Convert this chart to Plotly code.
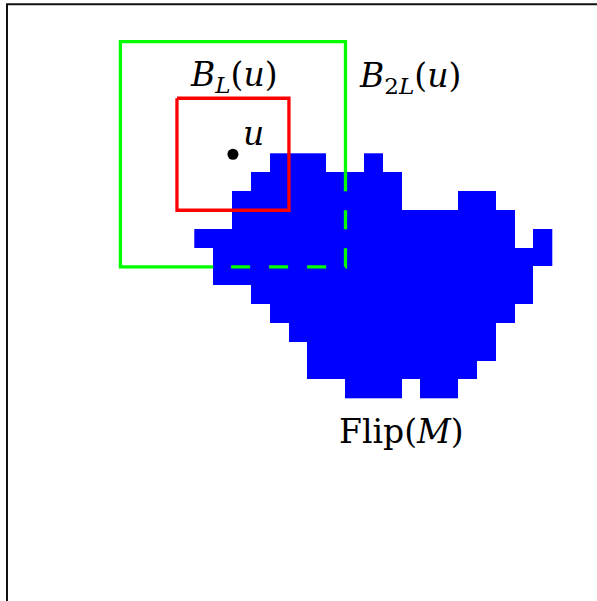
import plotly.graph_objects as go

# ---------------- data ----------------
# occupied cells of Flip(M): for each grid row (top to bottom) the inclusive column spans
blob_rows = [
    [(4, 6), (9, 9)],
    [(3, 10)],
    [(2, 10), (14, 15)],
    [(2, 16)],
    [(0, 16), (18, 18)],
    [(1, 18)],
    [(1, 17)],
    [(3, 17)],
    [(4, 16)],
    [(5, 15)],
    [(6, 15)],
    [(6, 14)],
    [(8, 10), (12, 13)],
]
n_cols = 19
point_u = (2.05, 0.05)        # grid coordinates of u
half_L = 2.97                 # half side of B_L(u) in cells
half_2L = 5.97                # half side of B_2L(u) in cells
overlap_row = 1.0             # where the right side of B_2L enters Flip(M)
overlap_col = 1.0             # where the bottom side of B_2L leaves Flip(M)

label_BL = "<i>B</i><sub><i>L</i></sub>(<i>u</i>)"
label_B2L = "<i>B</i><sub>2<i>L</i></sub>(<i>u</i>)"
label_u = "<i>u</i>"
label_flip = "Flip(<i>M</i>)"

# ---------------- geometry of the canvas ----------------
W, H = 597, 601
CELL = 18.85
OX, OY = 194.3, 153.3


def gx(px):
    return (px - OX) / CELL


def gy(py):
    return (py - OY) / CELL


z = [[None] * n_cols for _ in blob_rows]
for r, spans in enumerate(blob_rows):
    for a, b in spans:
        for c in range(a, b + 1):
            z[r][c] = 1

ux, uy = point_u
rL, rR, rT, rB = ux - half_L, ux + half_L, uy - half_L, uy + half_L
gL, gR, gT, gB = ux - half_2L, ux + half_2L, uy - half_2L, uy + half_2L

fig = go.Figure()
fig.add_trace(go.Heatmap(
    z=z, x0=0.5, dx=1, y0=0.5, dy=1,
    colorscale=[[0, "#0000ff"], [1, "#0000ff"]], showscale=False,
    zsmooth=False, hoverinfo="skip",
))
# B_2L(u): solid outside Flip(M)
fig.add_trace(go.Scatter(
    x=[gR, gR, gL, gL, overlap_col], y=[overlap_row, gT, gT, gB, gB],
    mode="lines", line=dict(color="#00ff00", width=3.3), hoverinfo="skip",
))
# B_2L(u): dashed over Flip(M)
fig.add_trace(go.Scatter(
    x=[gR, gR, overlap_col], y=[overlap_row, gB, gB],
    mode="lines", line=dict(color="#00ff00", width=3.3, dash="19px,19px"),
    hoverinfo="skip",
))
# B_L(u)
fig.add_trace(go.Scatter(
    x=[rL, rR, rR, rL, rL], y=[rT, rT, rB, rB, rT],
    mode="lines", line=dict(color="#ff0000", width=3.3), hoverinfo="skip",
))
# u
fig.add_trace(go.Scatter(
    x=[ux], y=[uy], mode="markers",
    marker=dict(color="black", size=11), hoverinfo="skip",
))

font = dict(family="DejaVu Serif", size=33, color="black")
fig.add_annotation(x=gx(234), y=gy(76), text=label_BL, showarrow=False,
                   xanchor="center", yanchor="middle", font=font)
fig.add_annotation(x=gx(357), y=gy(77), text=label_B2L, showarrow=False,
                   xanchor="left", yanchor="middle", font=font)
fig.add_annotation(x=gx(253), y=gy(133), text=label_u, showarrow=False,
                   xanchor="center", yanchor="middle", font=font)
fig.add_annotation(x=gx(401), y=gy(431), text=label_flip, showarrow=False,
                   xanchor="center", yanchor="middle", font=font)

# outer frame (left and top edges visible)
fig.add_shape(type="line", xref="paper", yref="paper",
              x0=7 / W, x1=7 / W, y0=1 - 4 / H, y1=-0.05,
              line=dict(color="#111111", width=2))
fig.add_shape(type="line", xref="paper", yref="paper",
              x0=6 / W, x1=1.05, y0=1 - 4.2 / H, y1=1 - 4.2 / H,
              line=dict(color="#111111", width=2))

fig.update_layout(
    width=W, height=H, margin=dict(l=0, r=0, t=0, b=0),
    paper_bgcolor="white", plot_bgcolor="white", showlegend=False,
    xaxis=dict(range=[gx(0), gx(W)], visible=False, fixedrange=True),
    yaxis=dict(range=[gy(H), gy(0)], visible=False, fixedrange=True),
)

fig.write_html("out.html", config={"displayModeBar": False},
               post_script="document.body.style.margin='0';document.body.style.overflow='hidden';")
